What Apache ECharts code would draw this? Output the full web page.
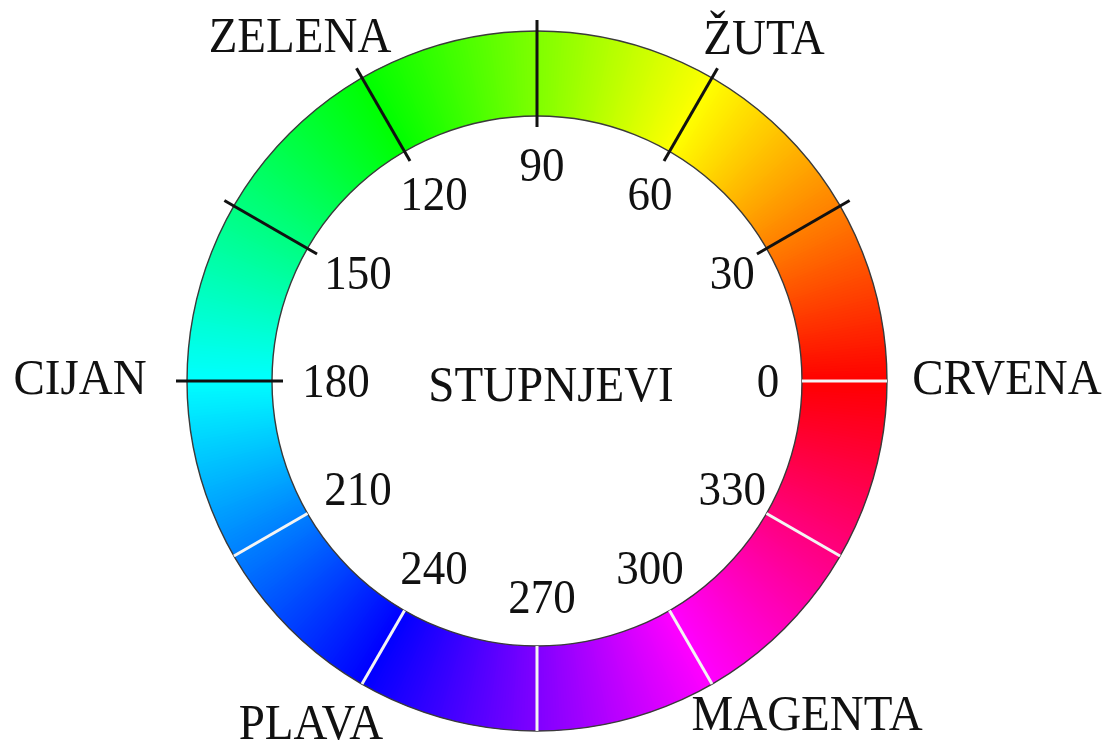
<!DOCTYPE html>
<html><head><meta charset="utf-8">
<script src="https://cdn.jsdelivr.net/npm/echarts@6/dist/echarts.min.js"></script>
<style>html,body{margin:0;padding:0;background:#fff}#c{width:1109px;height:744px}</style>
</head><body><div id="c"></div>
<script>
// ---- data ----
const degreeTicks = [0, 30, 60, 90, 120, 150, 180, 210, 240, 270, 300, 330];
const darkTicks = [30, 60, 90, 120, 150, 180];
const lightTicks = [0, 210, 240, 270, 300, 330];
const hueNames = ['CRVENA', 'ŽUTA', 'ZELENA', 'CIJAN', 'PLAVA', 'MAGENTA'];
const hueAngles = [0, 60, 120, 180, 240, 300];
const centerLabel = 'STUPNJEVI';

// ---- layout / style ----
const RING_IN = 265, RING_OUT = 350, TICK_IN = 254, TICK_OUT = 361, LABEL_R = 216;
const LABEL_SHIFT = [5, 3];
const nameOffsets = {
  'CRVENA': [470, 0], 'ŽUTA': [227, -340], 'ZELENA': [-237, -342],
  'CIJAN': [-457, 0], 'PLAVA': [-226, 345], 'MAGENTA': [270, 336]
};
const CENTER_SHIFT = [14, 7];
const FONT_NUM = '45px "Liberation Serif", "Times New Roman", serif';
const FONT_NAME = '47px "Liberation Serif", "Times New Roman", serif';
const TEXT_COLOR = '#111';
const TEXT_SCALE_Y = 1.07;

const chart = echarts.init(document.getElementById('c'), null, {renderer: 'canvas'});
const rad = d => d * Math.PI / 180;

function ringItem(params, api) {
  const start = api.value(0);
  const c = api.coord([0, 0]);
  const children = [];
  const step = 0.5;
  for (let a = start; a < start + 30 - 1e-9; a += step) {
    const col = 'hsl(' + (a + step / 2) + ',100%,50%)';
    children.push({
      type: 'sector',
      shape: {cx: c[0], cy: c[1], r0: RING_IN, r: RING_OUT,
              startAngle: -rad(a - 0.15), endAngle: -rad(a + step + 0.15), clockwise: false},
      style: {fill: col, stroke: null}
    });
  }
  return {type: 'group', children: children};
}

function tickItem(color, width, r0, r1) {
  return function (params, api) {
    const ang = api.value(0);
    const p0 = api.coord([r0, ang]);
    const p1 = api.coord([r1, ang]);
    return {type: 'line', shape: {x1: p0[0], y1: p0[1], x2: p1[0], y2: p1[1]},
            style: {stroke: color, lineWidth: width}};
  };
}

function borderItem(params, api) {
  const c = api.coord([0, 0]);
  return {type: 'group', children: [
    {type: 'circle', shape: {cx: c[0], cy: c[1], r: RING_OUT}, style: {fill: null, stroke: '#3a3a3a', lineWidth: 1.4}},
    {type: 'circle', shape: {cx: c[0], cy: c[1], r: RING_IN}, style: {fill: null, stroke: '#3a3a3a', lineWidth: 1.4}}
  ]};
}

function degLabelItem(params, api) {
  const ang = api.value(0);
  const p = api.coord([LABEL_R, ang]);
  const cs = Math.cos(rad(ang));
  const extra = 10 * Math.pow(cs, 8);
  return {type: 'text', x: p[0] + LABEL_SHIFT[0] + extra, y: p[1] + LABEL_SHIFT[1], scaleY: TEXT_SCALE_Y,
          style: {text: String(ang), font: FONT_NUM, fill: TEXT_COLOR, align: 'center', verticalAlign: 'middle'}};
}

function nameItem(params, api) {
  const name = hueNames[params.dataIndex];
  const c = api.coord([0, 0]);
  const off = nameOffsets[name];
  return {type: 'text', x: c[0] + off[0], y: c[1] + off[1], scaleY: TEXT_SCALE_Y,
          style: {text: name, font: FONT_NAME, fill: TEXT_COLOR, align: 'center', verticalAlign: 'middle'}};
}

function centerItem(params, api) {
  const c = api.coord([0, 0]);
  return {type: 'text', x: c[0] + CENTER_SHIFT[0], y: c[1] + CENTER_SHIFT[1], scaleY: TEXT_SCALE_Y,
          style: {text: centerLabel, font: FONT_NAME, fill: TEXT_COLOR, align: 'center', verticalAlign: 'middle'}};
}

chart.setOption({
  backgroundColor: '#ffffff',
  animation: false,
  polar: {center: [537, 381], radius: 370},
  angleAxis: {type: 'value', min: 0, max: 360, startAngle: 0, clockwise: false, show: false},
  radiusAxis: {type: 'value', min: 0, max: 370, show: false},
  series: [
    {type: 'custom', coordinateSystem: 'polar', renderItem: ringItem, silent: true,
     data: degreeTicks.map(d => [d]), z: 1},
    {type: 'custom', coordinateSystem: 'polar', renderItem: borderItem, silent: true, data: [[0]], z: 2},
    {type: 'custom', coordinateSystem: 'polar', renderItem: tickItem('#f4f4f4', 3, RING_IN, RING_OUT), silent: true,
     data: lightTicks.map(d => [d]), z: 3},
    {type: 'custom', coordinateSystem: 'polar', renderItem: tickItem('#111', 3, TICK_IN, TICK_OUT), silent: true,
     data: darkTicks.map(d => [d]), z: 4},
    {type: 'custom', coordinateSystem: 'polar', renderItem: degLabelItem, silent: true,
     data: degreeTicks.map(d => [d]), z: 5},
    {type: 'custom', coordinateSystem: 'polar', renderItem: nameItem, silent: true,
     data: hueAngles.map(d => [d]), z: 5},
    {type: 'custom', coordinateSystem: 'polar', renderItem: centerItem, silent: true, data: [[0]], z: 5}
  ]
});
</script>
</body></html>
